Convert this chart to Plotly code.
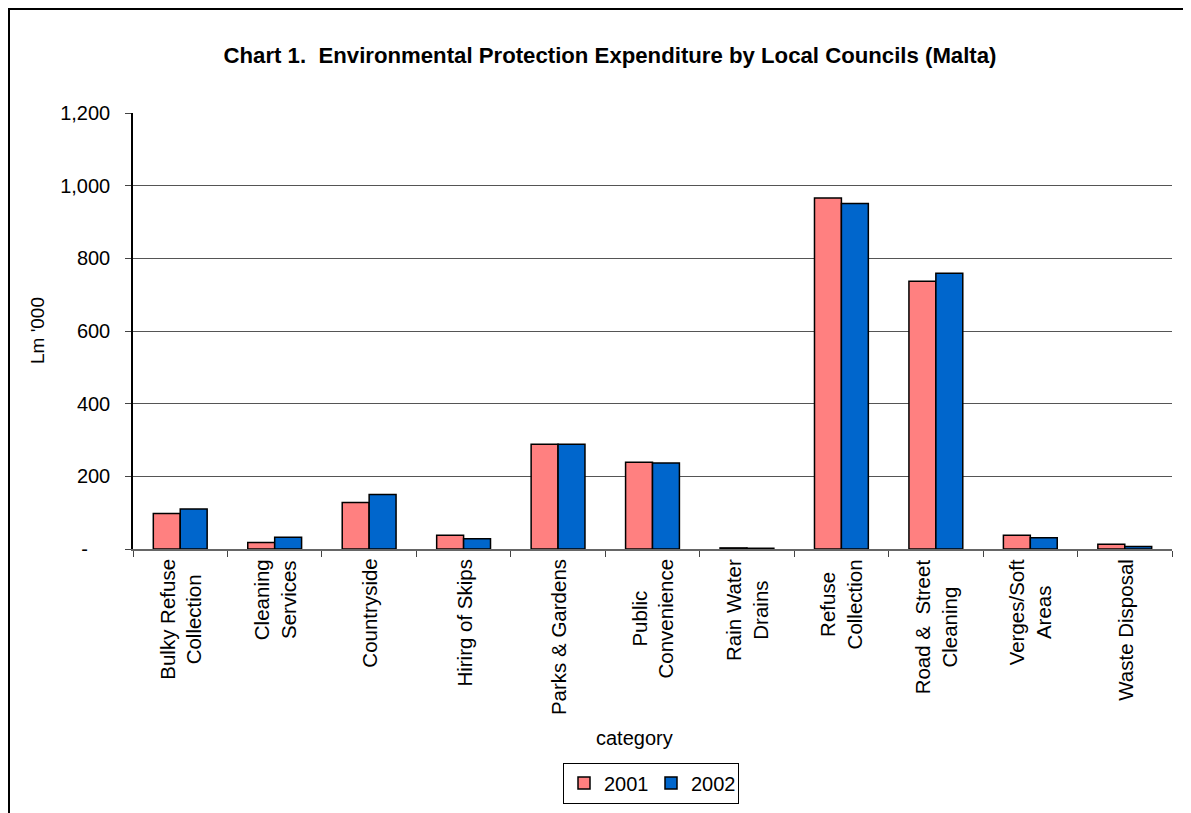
import plotly.graph_objects as go

categories = ["Bulky Refuse<br>Collection", "Cleaning<br>Services", "Countryside",
              "Hirirg of Skips", "Parks & Gardens", "Public<br>Convenience",
              "Rain Water<br>Drains", "Refuse<br>Collection", "Road &  Street<br>Cleaning",
              "Verges/Soft<br>Areas", "Waste Disposal"]
values_2001 = [98, 18, 128, 38, 288, 239, 3, 966, 737, 38, 13]
values_2002 = [110, 32, 150, 28, 288, 237, 2, 951, 759, 31, 7]
series_names = ["2001", "2002"]
y_tickvals = [0, 200, 400, 600, 800, 1000, 1200]
y_ticktext = ["-\u00a0\u00a0\u00a0\u00a0", "200", "400", "600", "800", "1,000", "1,200"]

FONT = "Liberation Sans, Arial, sans-serif"
W, H = 1191, 813
OFF = 8  # page body margin
# plot area in page pixels
PX0, PX1, PY0, PY1 = 133, 1172, 113, 549
L = PX0 - OFF
T = PY0 - OFF
R = W - (PX1 - OFF)
B = H - (PY1 - OFF)
pw = PX1 - PX0
ph = PY1 - PY0

def px_to_paper_x(px):
    return (px - PX0) / pw

def px_to_paper_y(py):
    return (PY1 - py) / ph

fig = go.Figure()
fig.add_trace(go.Bar(x=categories, y=values_2001, name=series_names[0],
                     marker=dict(color="#FF8080", line=dict(color="black", width=1.5))))
fig.add_trace(go.Bar(x=categories, y=values_2002, name=series_names[1],
                     marker=dict(color="#0066CC", line=dict(color="black", width=1.5))))

annotations = []
for c in categories:
    annotations.append(dict(x=c, xref="x", y=px_to_paper_y(557), yref="paper",
                            text=c, textangle=-90, showarrow=False,
                            xanchor="center", yanchor="top", align="center",
                            font=dict(family=FONT, size=20.5, color="black")))
annotations.append(dict(x=px_to_paper_x(634), xref="paper", y=px_to_paper_y(738), yref="paper",
                        text="category", showarrow=False, xanchor="center", yanchor="middle",
                        font=dict(family=FONT, size=20, color="black")))
annotations.append(dict(x=px_to_paper_x(37), xref="paper", y=px_to_paper_y(331), yref="paper",
                        text="Lm '000", textangle=-90, showarrow=False,
                        xanchor="center", yanchor="middle",
                        font=dict(family=FONT, size=19, color="black")))

fig.update_layout(
    width=W, height=H,
    margin=dict(l=L, r=R, t=T, b=B, pad=0),
    paper_bgcolor="white", plot_bgcolor="white",
    font=dict(family=FONT, size=20, color="black"),
    title=dict(text="<b>Chart 1.  Environmental Protection Expenditure by Local Councils (Malta)</b>",
               x=(610 - OFF) / W, xanchor="center", y=1 - (55 - OFF) / H, yanchor="middle",
               font=dict(family=FONT, size=22.2, color="black")),
    barmode="group", bargap=0.43, bargroupgap=0,
    showlegend=True,
    legend=dict(orientation="h", x=px_to_paper_x(651), xanchor="center",
                y=px_to_paper_y(783), yanchor="middle",
                bordercolor="black", borderwidth=1, bgcolor="white",
                font=dict(family=FONT, size=20, color="black"),
                itemwidth=30, entrywidth=42, entrywidthmode="pixels", tracegroupgap=0),
    annotations=annotations,
    shapes=[dict(type="rect", xref="paper", yref="paper",
                 x0=px_to_paper_x(9), x1=px_to_paper_x(1230),
                 y0=px_to_paper_y(860), y1=px_to_paper_y(9),
                 line=dict(color="black", width=2), fillcolor="rgba(0,0,0,0)", layer="above")],
)
fig.update_xaxes(type="category", showticklabels=False, ticks="outside", tickson="boundaries",
                 ticklen=6, tickcolor="#444", showline=True, linecolor="#666", linewidth=1.5,
                 showgrid=False, zeroline=False)
fig.update_yaxes(range=[0, 1200], tickvals=y_tickvals, ticktext=y_ticktext,
                 ticks="outside", ticklen=6, tickcolor="#444",
                 showline=True, linecolor="black", linewidth=1.5,
                 showgrid=True, gridcolor="#555", gridwidth=1, zeroline=False,
                 tickfont=dict(family=FONT, size=20, color="black"), ticklabelstandoff=11)
fig.write_html("out.html")
